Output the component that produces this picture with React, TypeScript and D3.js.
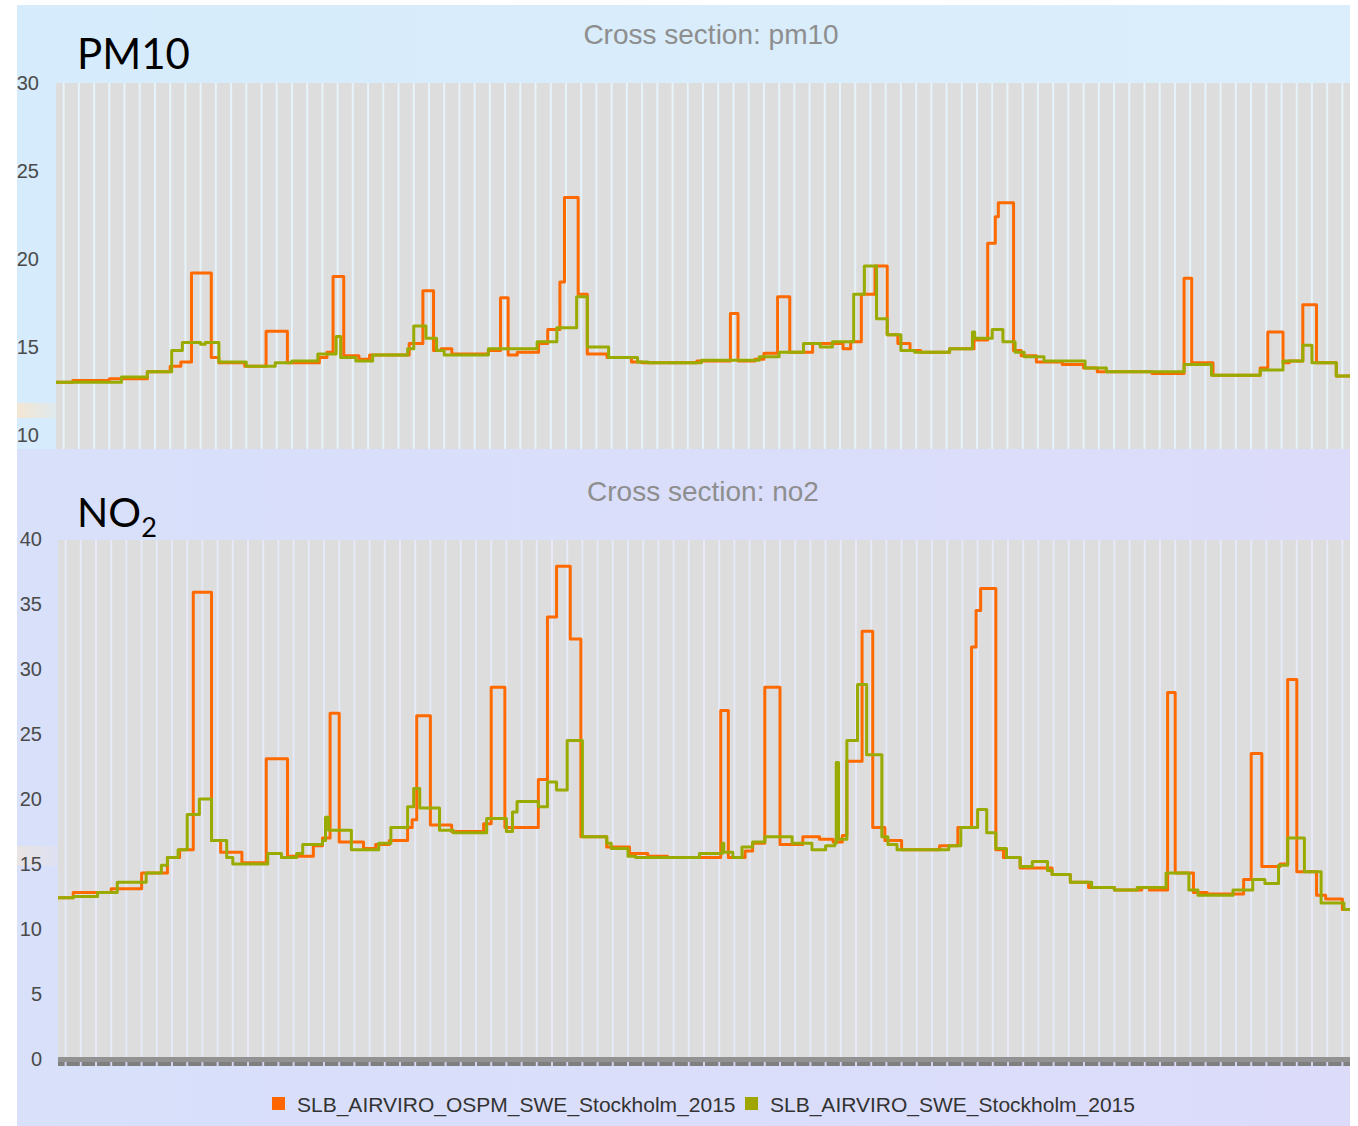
import React from "react";
import * as d3 from "d3";

// ---- Data (x in station index units 0..85, value in µg/m³) ----
const pm10Ticks = [10, 15, 20, 25, 30];
const no2Ticks = [0, 5, 10, 15, 20, 25, 30, 35, 40];
const seriesNames = ["SLB_AIRVIRO_OSPM_SWE_Stockholm_2015", "SLB_AIRVIRO_SWE_Stockholm_2015"];

const pm10Ospm: [number, number][] = [
  [0, 13.0], [1.1, 13.1], [3.5, 13.2], [6.0, 13.6], [7.5, 13.9], [8.2, 14.15], [8.9, 19.2],
  [10.2, 14.4], [10.7, 14.1], [12.4, 13.9], [13.8, 15.9], [15.2, 14.1], [17.3, 14.4], [17.8, 14.7],
  [18.2, 19.0], [18.9, 14.5], [19.9, 14.3], [20.6, 14.55], [23.2, 15.2], [24.1, 18.2], [24.8, 14.8],
  [25.3, 14.9], [26.0, 14.6], [28.4, 14.8], [29.2, 17.8], [29.7, 14.55], [30.3, 14.7], [31.7, 15.2],
  [32.3, 16.0], [33.1, 18.7], [33.4, 23.5], [34.3, 18.0], [34.9, 14.6], [36.2, 14.4], [37.8, 14.15],
  [38.5, 14.1], [42.1, 14.2], [44.3, 16.9], [44.8, 14.2], [45.9, 14.3], [46.5, 14.65], [47.4, 17.85],
  [48.2, 14.7], [49.7, 15.2], [51.7, 14.9], [52.2, 15.3], [52.9, 18.0], [53.8, 19.6], [54.6, 15.7],
  [55.3, 15.2], [56.1, 14.8], [56.8, 14.7], [58.7, 14.9], [60.3, 15.4], [61.2, 20.9], [61.7, 22.4],
  [61.9, 23.2], [62.9, 14.8], [63.4, 14.5], [64.4, 14.15], [66.1, 14.0], [67.5, 13.8], [68.4, 13.6],
  [72.0, 13.5], [74.1, 18.9], [74.6, 14.1], [76.0, 13.4], [79.1, 13.8], [79.6, 15.85], [80.6, 14.1],
  [81.0, 14.2], [81.9, 17.4], [82.8, 14.1], [84.1, 13.35], [85, 13.35],
];

const pm10Swe: [number, number][] = [
  [0, 13.0], [4.3, 13.3], [6.0, 13.6], [7.6, 14.8], [8.3, 15.25], [9.5, 15.15], [9.8, 15.25],
  [10.7, 14.15], [12.5, 13.9], [14.4, 14.1], [15.5, 14.2], [17.2, 14.6], [18.4, 15.6], [18.7, 14.4],
  [19.7, 14.2], [20.8, 14.55], [23.1, 14.9], [23.5, 16.2], [24.3, 15.5], [25.0, 14.8], [25.5, 14.55],
  [28.4, 14.9], [31.6, 15.3], [32.9, 16.1], [34.2, 17.85], [34.9, 15.0], [36.3, 14.4], [38.2, 14.15],
  [38.9, 14.1], [42.4, 14.25], [46.2, 14.45], [47.5, 14.7], [49.1, 15.2], [50.2, 15.0], [51.0, 15.3],
  [52.4, 18.0], [53.1, 19.6], [53.9, 16.6], [54.6, 15.7], [55.5, 14.8], [56.4, 14.7], [58.7, 14.9],
  [60.2, 15.85], [60.35, 15.5], [61.5, 16.0], [62.2, 15.3], [63.0, 14.7], [63.6, 14.45], [64.9, 14.2],
  [67.6, 13.8], [69.0, 13.6], [74.1, 14.0], [75.9, 13.4], [79.1, 13.7], [80.6, 14.2], [81.9, 15.1],
  [82.5, 14.1], [84.1, 13.35], [85, 13.35],
];

const no2Ospm: [number, number][] = [
  [0, 12.4], [1.0, 12.8], [3.5, 13.1], [5.5, 14.3], [7.2, 15.5], [8.0, 16.1], [8.9, 35.9],
  [10.1, 16.8], [10.7, 15.9], [12.1, 15.1], [13.7, 23.1], [15.1, 15.6], [16.8, 16.4], [17.4, 17.0],
  [17.9, 26.6], [18.5, 16.7], [20.1, 16.2], [20.9, 16.5], [21.8, 16.8], [23.0, 17.8], [23.3, 18.4],
  [23.6, 26.4], [24.5, 18.0], [25.9, 17.5], [28.0, 18.1], [28.5, 28.6], [29.4, 17.8], [31.6, 21.5],
  [32.2, 34.0], [32.8, 37.9], [33.7, 32.3], [34.4, 17.1], [36.1, 16.3], [37.6, 15.8], [38.8, 15.6],
  [40.1, 15.5], [43.6, 26.8], [44.1, 15.5], [45.2, 16.0], [45.7, 16.6], [46.5, 28.6], [47.5, 16.5],
  [49.0, 17.1], [50.1, 16.9], [51.0, 16.7], [51.6, 17.2], [51.9, 22.9], [52.9, 32.9], [53.6, 17.8],
  [54.4, 16.8], [55.5, 16.1], [58.0, 16.4], [59.2, 17.8], [60.1, 31.7], [60.4, 34.5], [60.7, 36.2],
  [61.7, 16.1], [62.2, 15.5], [63.3, 14.7], [65.4, 14.2], [66.6, 13.6], [67.8, 13.2], [69.5, 13.0],
  [71.3, 13.2], [71.8, 13.0], [73.0, 28.2], [73.5, 14.3], [74.7, 12.8], [75.6, 12.7], [78.0, 13.8],
  [78.5, 23.5], [79.2, 14.8], [80.4, 15.0], [80.9, 29.2], [81.5, 14.4], [82.8, 12.6], [83.4, 12.3],
  [84.5, 11.5], [85, 11.5],
];

const no2Swe: [number, number][] = [
  [0, 12.4], [1.0, 12.5], [2.6, 12.8], [3.9, 13.6], [5.8, 14.3], [6.8, 14.9], [7.2, 15.5],
  [7.9, 16.1], [8.5, 18.8], [9.3, 20.0], [10.1, 16.8], [11.1, 15.5], [11.5, 15.0], [13.8, 15.8],
  [14.7, 15.5], [15.7, 15.8], [16.1, 16.5], [17.4, 16.8], [17.6, 18.6], [17.8, 17.6], [19.3, 16.1],
  [21.1, 16.6], [21.9, 17.8], [23.0, 19.4], [23.4, 20.8], [23.8, 19.3], [25.1, 17.6], [26.0, 17.4],
  [28.2, 18.5], [29.5, 17.5], [29.9, 19.0], [30.2, 19.8], [31.6, 19.4], [32.2, 21.3], [32.8, 20.7],
  [33.5, 24.5], [34.5, 17.1], [36.1, 16.6], [36.4, 16.2], [37.5, 15.6], [38.0, 15.5], [42.2, 15.8],
  [43.7, 16.6], [43.8, 15.9], [44.4, 15.5], [45.0, 16.3], [45.7, 16.7], [46.5, 17.1], [48.3, 16.6],
  [49.6, 16.1], [50.5, 16.4], [51.1, 16.6], [51.2, 22.8], [51.35, 16.9], [51.9, 24.5], [52.6, 28.8],
  [53.2, 23.4], [54.2, 17.1], [54.6, 16.5], [55.2, 16.1], [58.6, 16.4], [59.4, 17.8], [60.5, 19.2],
  [61.1, 17.4], [61.7, 16.2], [62.4, 15.5], [63.3, 14.8], [64.1, 15.2], [65.1, 14.5], [65.4, 14.2],
  [66.6, 13.6], [68.0, 13.2], [69.5, 13.0], [71.0, 13.2], [72.9, 14.3], [74.4, 13.0], [75.0, 12.6],
  [77.3, 13.0], [78.6, 13.8], [79.4, 13.5], [80.3, 14.9], [80.9, 17.0], [82.0, 14.4], [83.1, 12.0],
  [84.6, 11.5], [85, 11.5],
];

const stripeCount = 85;

const ORANGE = "#ff6a00";
const GREEN = "#99ab00";

export default function App() {
  const W = 1358, H = 1126;

  const xTop = d3.scaleLinear().domain([0, 85]).range([56, 1350]);
  const yTop = d3.scaleLinear().domain([10, 30]).range([435, 83]);
  const xBot = d3.scaleLinear().domain([0, 85]).range([58, 1350]);
  const yBot = d3.scaleLinear().domain([0, 40]).range([1059, 539]);

  const stripes = d3.range(stripeCount).map((k) => k + 0.5);

  const lineTop = d3.line<[number, number]>().x((d) => xTop(d[0])).y((d) => yTop(d[1])).curve(d3.curveStepAfter);
  const lineBot = d3.line<[number, number]>().x((d) => xBot(d[0])).y((d) => yBot(d[1])).curve(d3.curveStepAfter);

  const tickFont = "'Liberation Sans', Arial, sans-serif";

  return (
    <svg width={W} height={H} style={{ position: "absolute", left: 0, top: 0, background: "#fff" }}
      xmlns="http://www.w3.org/2000/svg">
      <defs>
        <linearGradient id="topBg" x1="0" y1="0" x2="1" y2="0">
          <stop offset="0" stopColor="#d6ebfb" />
          <stop offset="1" stopColor="#dbeefb" />
        </linearGradient>
        <linearGradient id="botBg" x1="0" y1="0" x2="1" y2="0">
          <stop offset="0" stopColor="#d8e0fa" />
          <stop offset="1" stopColor="#dcdcfa" />
        </linearGradient>
        <linearGradient id="blob" x1="0" y1="0" x2="1" y2="0">
          <stop offset="0" stopColor="#f6e6cf" stopOpacity="0.9" />
          <stop offset="1" stopColor="#f6e6cf" stopOpacity="0.3" />
        </linearGradient>
        <clipPath id="clipTop"><rect x={56} y={83} width={1294} height={366} /></clipPath>
        <clipPath id="clipBot"><rect x={58} y={540} width={1292} height={519} /></clipPath>
      </defs>

      {/* panels */}
      <rect x={17} y={5} width={1333} height={444} fill="url(#topBg)" />
      <rect x={17} y={449} width={1333} height={677} fill="url(#botBg)" />
      <rect x={17} y={403} width={39} height={15} fill="url(#blob)" />
      <rect x={17} y={846} width={41} height={20} fill="url(#blob)" opacity={0.6} />

      {/* ---- PM10 ---- */}
      <text x={77} y={69} fontFamily="Lato, 'Open Sans', sans-serif" fontSize={42} fill="#000">PM10</text>
      <text x={711} y={44} textAnchor="middle" fontFamily={tickFont} fontSize={28} fill="#8e8e8e">Cross section: pm10</text>
      <rect x={56} y={83} width={1294} height={366} fill="#dddddd" />
      <g>
        {stripes.map((s) => (
          <line key={s} x1={xTop(s)} x2={xTop(s)} y1={83} y2={449} stroke="#e6f3fa" strokeWidth={2} />
        ))}
      </g>
      {pm10Ticks.map((t) => (
        <text key={t} x={39} y={yTop(t)} dy="0.36em" textAnchor="end" fontFamily={tickFont} fontSize={20} fill="#4a4a4a">{t}</text>
      ))}
      <g clipPath="url(#clipTop)" fill="none" strokeLinejoin="round">
        <path d={lineTop(pm10Ospm) || ""} stroke={ORANGE} strokeWidth={3} />
        <path d={lineTop(pm10Swe) || ""} stroke={GREEN} strokeWidth={3} />
      </g>

      {/* ---- NO2 ---- */}
      <text x={77} y={527} fontFamily="Lato, 'Open Sans', sans-serif" fontSize={41} fill="#000">
        NO<tspan fontSize={27} dy={10}>2</tspan>
      </text>
      <text x={703} y={501} textAnchor="middle" fontFamily={tickFont} fontSize={28} fill="#8e8e8e">Cross section: no2</text>
      <rect x={58} y={540} width={1292} height={519} fill="#dddddd" />
      <g>
        {stripes.map((s) => (
          <line key={s} x1={xBot(s)} x2={xBot(s)} y1={540} y2={1059} stroke="#e6e9f8" strokeWidth={2} />
        ))}
      </g>
      {no2Ticks.map((t) => (
        <text key={t} x={42} y={yBot(t)} dy="0.36em" textAnchor="end" fontFamily={tickFont} fontSize={20} fill="#4a4a4a">{t}</text>
      ))}
      <g clipPath="url(#clipBot)" fill="none" strokeLinejoin="round">
        <path d={lineBot(no2Ospm) || ""} stroke={ORANGE} strokeWidth={3} />
        <path d={lineBot(no2Swe) || ""} stroke={GREEN} strokeWidth={3} />
      </g>

      {/* x axis */}
      <rect x={58} y={1057} width={1292} height={5} fill="#929292" />
      <rect x={58} y={1062} width={1292} height={4} fill="#7f7f7f" />
      {stripes.map((s) => (
        <line key={"t" + s} x1={xBot(s)} x2={xBot(s)} y1={1062} y2={1066} stroke="#d0d4ec" strokeWidth={2} />
      ))}

      {/* legend */}
      <rect x={272} y={1097} width={13} height={13} fill="#ff6600" />
      <text x={297} y={1104} dy="0.36em" fontFamily={tickFont} fontSize={21} fill="#333">{seriesNames[0]}</text>
      <rect x={745} y={1097} width={13} height={13} fill="#a0a600" />
      <text x={770} y={1104} dy="0.36em" fontFamily={tickFont} fontSize={21} fill="#333">{seriesNames[1]}</text>
    </svg>
  );
}
